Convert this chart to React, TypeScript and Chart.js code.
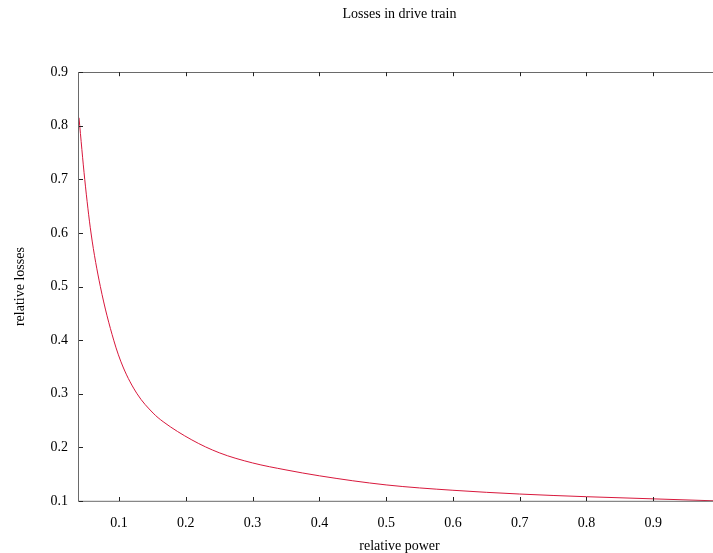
import React, { useEffect, useRef } from "react";
import { Chart, registerables } from "chart.js";

Chart.register(...registerables);

// Data
const power = [0.04, 0.0486, 0.058, 0.072, 0.092, 0.106, 0.127, 0.151, 0.166, 0.209, 0.25, 0.3, 0.35, 0.4, 0.5, 0.6, 0.7, 0.8, 0.9, 1.0];
const losses = [0.815, 0.7, 0.6, 0.5, 0.4, 0.35, 0.3, 0.264, 0.248, 0.214, 0.19, 0.171, 0.158, 0.147, 0.13, 0.12, 0.113, 0.108, 0.104, 0.1];

const xTickValues = [0.1, 0.2, 0.3, 0.4, 0.5, 0.6, 0.7, 0.8, 0.9];
const yTickValues = [0.1, 0.2, 0.3, 0.4, 0.5, 0.6, 0.7, 0.8, 0.9];

const chartTitle = "Losses in drive train";
const xTitle = "relative power";
const yTitle = "relative losses";

const FONT = '"Liberation Serif", "Times New Roman", serif';

const frameAndTicks = {
  id: "frameAndTicks",
  afterDraw(chart: any) {
    const { ctx, chartArea, scales } = chart;
    const { left, right, top, bottom } = chartArea;
    const x = scales.x;
    const y = scales.y;
    ctx.save();
    ctx.lineWidth = 1;
    ctx.strokeStyle = "#6a6a6a";
    ctx.strokeRect(Math.round(left) - 0.5, Math.round(top) + 0.5, right - left, bottom - top);
    ctx.strokeStyle = "#222";
    ctx.beginPath();
    const len = 4;
    for (const v of xTickValues) {
      const px = Math.round(x.getPixelForValue(v)) + 0.5;
      ctx.moveTo(px, bottom);
      ctx.lineTo(px, bottom - len);
      ctx.moveTo(px, top);
      ctx.lineTo(px, top + len);
    }
    for (const v of yTickValues) {
      const py = Math.round(y.getPixelForValue(v)) + 0.5;
      ctx.moveTo(left, py);
      ctx.lineTo(left + len, py);
      ctx.moveTo(right, py);
      ctx.lineTo(right - len, py);
    }
    ctx.stroke();
    ctx.restore();
  },
};

export default function App() {
  const ref = useRef<HTMLCanvasElement | null>(null);

  useEffect(() => {
    if (!ref.current) return;
    const chart = new Chart(ref.current, {
      type: "scatter",
      data: {
        datasets: [
          {
            label: "losses",
            data: power.map((p, i) => ({ x: p, y: losses[i] })),
            showLine: true,
            borderColor: "#d8183c",
            borderWidth: 1,
            pointRadius: 0,
            cubicInterpolationMode: "monotone",
            fill: false,
          } as any,
        ],
      },
      options: {
        animation: false,
        responsive: false,
        maintainAspectRatio: false,
        layout: { padding: 0 },
        plugins: {
          legend: { display: false },
          tooltip: { enabled: false },
          title: {
            display: true,
            text: chartTitle,
            fullSize: false,
            color: "#000",
            font: { family: FONT, size: 14, weight: "normal", lineHeight: 1.2 },
            padding: { top: 6, bottom: 49.4 },
          },
        },
        scales: {
          x: {
            type: "linear",
            min: 0.04,
            max: 1.0,
            afterFit: (s: any) => {
              s.height = 52;
              s.paddingLeft = 0;
              s.paddingRight = 0;
            },
            afterBuildTicks: (s: any) => {
              s.ticks = xTickValues.map((v) => ({ value: v }));
            },
            grid: { display: false, drawTicks: false },
            border: { display: false },
            ticks: {
              color: "#000",
              padding: 14,
              autoSkip: false,
              maxRotation: 0,
              font: { family: FONT, size: 14 },
              callback: (v: any) => Number(v).toFixed(1),
            },
            title: {
              display: true,
              text: xTitle,
              color: "#000",
              font: { family: FONT, size: 14, lineHeight: 1.0 },
              padding: { top: 0, bottom: 0 },
            },
          },
          y: {
            type: "linear",
            min: 0.1,
            max: 0.9,
            afterFit: (s: any) => {
              s.width = 79;
              s.paddingTop = 0;
              s.paddingBottom = 0;
            },
            afterBuildTicks: (s: any) => {
              s.ticks = yTickValues.map((v) => ({ value: v }));
            },
            grid: { display: false, drawTicks: false },
            border: { display: false },
            ticks: {
              color: "#000",
              padding: 11,
              autoSkip: false,
              font: { family: FONT, size: 14 },
              callback: (v: any) => Number(v).toFixed(1),
            },
            title: {
              display: true,
              text: yTitle,
              color: "#000",
              font: { family: FONT, size: 14, lineHeight: 1.2 },
              padding: { top: 12, bottom: 0 },
            },
          },
        },
      },
      plugins: [frameAndTicks],
    });
    return () => chart.destroy();
  }, []);

  return (
    <div
      style={{
        position: "fixed",
        left: 0,
        top: 0,
        width: 713,
        height: 553,
        overflow: "hidden",
        background: "#fff",
      }}
    >
      <canvas ref={ref} width={720} height={553} style={{ width: 720, height: 553, display: "block" }} />
    </div>
  );
}
